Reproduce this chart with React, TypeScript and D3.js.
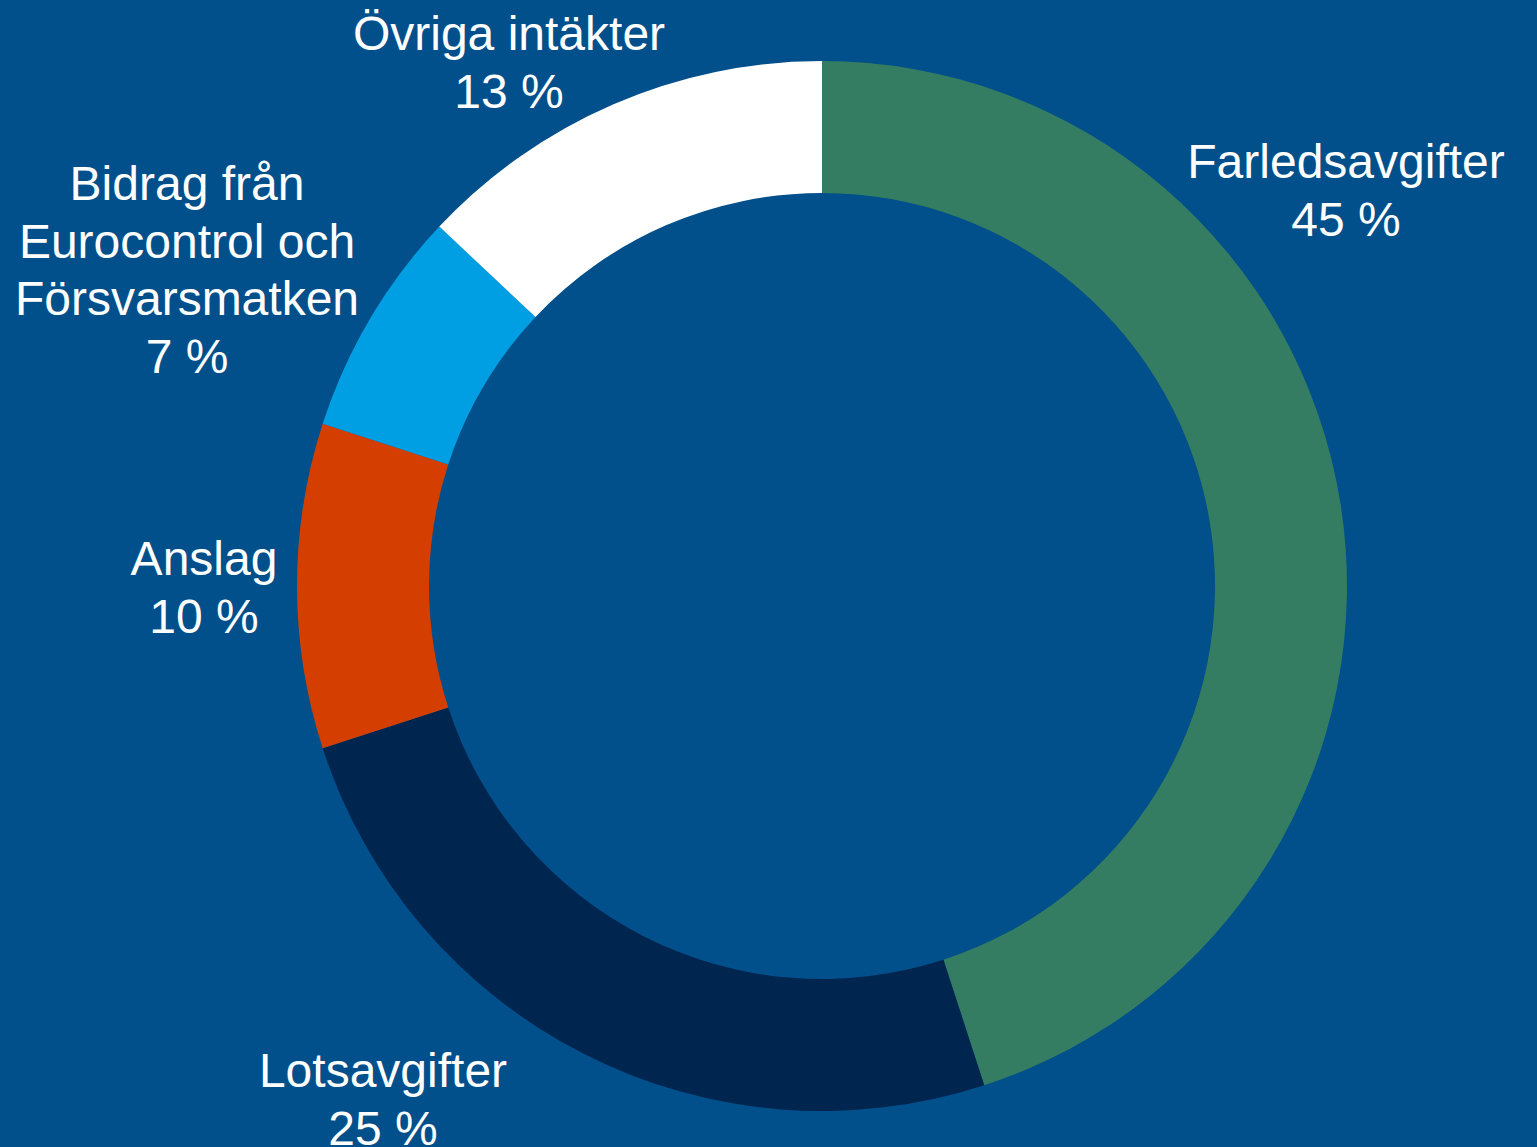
import React from "react";
import * as d3 from "d3";

const categories = ["Farledsavgifter", "Lotsavgifter", "Anslag", "Bidrag från Eurocontrol och Försvarsmatken", "Övriga intäkter"];
const values = [45, 25, 10, 7, 13];
const colors = ["#347D62", "#00264F", "#D43F00", "#009FE3", "#FFFFFF"];
const labelLines = [
  ["Farledsavgifter", "45 %"],
  ["Lotsavgifter", "25 %"],
  ["Anslag", "10 %"],
  ["Bidrag från", "Eurocontrol och", "Försvarsmatken", "7 %"],
  ["Övriga intäkter", "13 %"],
];
const labelPos = [
  [1346, 178],
  [383, 1087],
  [204, 575],
  [187, 200],
  [509, 50],
];

const W = 1537;
const H = 1147;
const cx = 822;
const cy = 586;
const outerR = 525;
const innerR = 393;

export default function App() {
  const pie = d3.pie<number>().sort(null).value((d) => d);
  const arcs = pie(values);
  const arc = d3.arc<d3.PieArcDatum<number>>().innerRadius(innerR).outerRadius(outerR);
  return (
    <svg width={W} height={H} style={{ position: "absolute", left: 0, top: 0, display: "block" }}>
      <rect x={0} y={0} width={W} height={H} fill="#01508B" />
      <g transform={`translate(${cx},${cy})`}>
        {arcs.map((a, i) => (
          <path key={categories[i]} d={arc(a) || ""} fill={colors[i]} />
        ))}
      </g>
      {labelLines.map((lines, i) => (
        <text
          key={i}
          x={labelPos[i][0]}
          y={labelPos[i][1]}
          textAnchor="middle"
          fill="#FFFFFF"
          fontFamily="'Liberation Sans', Arial, sans-serif"
          fontSize={48}
        >
          {lines.map((l, j) => (
            <tspan key={j} x={labelPos[i][0]} dy={j === 0 ? 0 : 57.5}>
              {l}
            </tspan>
          ))}
        </text>
      ))}
    </svg>
  );
}
